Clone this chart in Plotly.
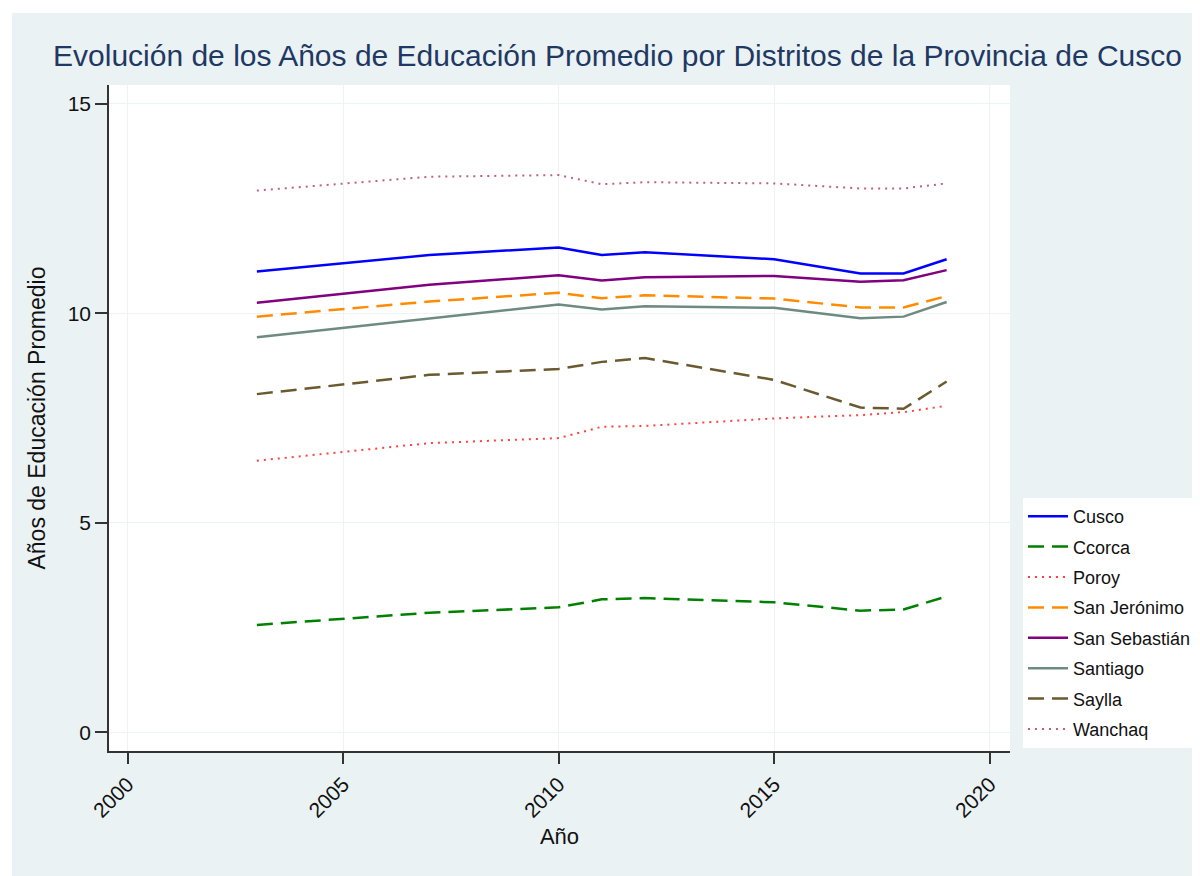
import plotly.graph_objects as go

years = [2003, 2007, 2010, 2011, 2012, 2015, 2017, 2018, 2019]

cusco = [11.00, 11.39, 11.57, 11.39, 11.46, 11.29, 10.95, 10.95, 11.29]
ccorca = [2.56, 2.85, 2.98, 3.17, 3.20, 3.10, 2.90, 2.93, 3.24]
poroy = [6.48, 6.90, 7.02, 7.29, 7.31, 7.49, 7.57, 7.64, 7.79]
san_jeronimo = [9.92, 10.28, 10.49, 10.36, 10.43, 10.35, 10.14, 10.14, 10.41]
san_sebastian = [10.25, 10.68, 10.91, 10.78, 10.86, 10.89, 10.75, 10.79, 11.03]
santiago = [9.43, 9.88, 10.21, 10.09, 10.17, 10.13, 9.88, 9.92, 10.27]
saylla = [8.07, 8.53, 8.67, 8.84, 8.93, 8.41, 7.75, 7.72, 8.37]
wanchaq = [12.93, 13.26, 13.30, 13.08, 13.13, 13.10, 12.98, 12.98, 13.10]

names = ["Cusco", "Ccorca", "Poroy", "San Jerónimo", "San Sebastián",
         "Santiago", "Saylla", "Wanchaq"]
series = [cusco, ccorca, poroy, san_jeronimo, san_sebastian, santiago, saylla, wanchaq]
colors = ["#0000FF", "#008000", "#FF4040", "#FF8C00", "#800080",
          "#6E8B80", "#6B5A30", "#C06080"]
dashes = ["solid", "16px,8px", "2px,5px", "16px,8px", "solid",
          "solid", "16px,8px", "2px,5px"]
widths = [2.5, 2.5, 2, 2.5, 2.5, 2.5, 2.5, 2]

x_ticks = [2000, 2005, 2010, 2015, 2020]
y_ticks = [0, 5, 10, 15]

FONT = "Liberation Sans, Arial, sans-serif"
BG = "#EAF2F3"

fig = go.Figure()
for n, s, c, d, w in zip(names, series, colors, dashes, widths):
    fig.add_trace(go.Scatter(x=years, y=s, name=n, mode="lines", legendgroup=n,
                             line=dict(color=c, dash=d, width=w)))

L, R, T, B = 101, 198, 77, 133
W, H = 1200, 876
pw, ph = W - L - R, H - T - B

# white outer strips (top and left)
fig.add_shape(type="rect", xref="paper", yref="paper", layer="below",
              x0=-L / pw, x1=(4 - L) / pw, y0=-B / ph, y1=(H - B) / ph,
              fillcolor="white", line=dict(width=0))
fig.add_shape(type="rect", xref="paper", yref="paper", layer="below",
              x0=-L / pw, x1=(W - L) / pw, y0=(H - B - 5) / ph, y1=(H - B) / ph,
              fillcolor="white", line=dict(width=0))

fig.update_layout(
    width=W, height=H,
    margin=dict(l=L, r=R, t=T, b=B),
    paper_bgcolor=BG, plot_bgcolor="white",
    font=dict(family=FONT, color="#111111"),
    title=dict(text="Evolución de los Años de Educación Promedio por Distritos de la Provincia de Cusco",
               x=609.5 / W, xref="container", xanchor="center",
               y=1 - 47 / H, yanchor="middle",
               font=dict(size=30, color="#1F3864", family=FONT)),
    showlegend=True,
    legend=dict(x=(1015 - L) / pw, xanchor="left", y=(H - B - 490) / ph, yanchor="top",
                bgcolor="white", font=dict(size=18, color="#111111"),
                tracegroupgap=4, itemwidth=40, traceorder="grouped"),
)

fig.update_xaxes(range=[1999.57, 2020.47], tickvals=x_ticks, tickangle=-45,
                 ticks="outside", ticklen=11, tickwidth=1.5, tickcolor="#333333",
                 showline=True, linecolor="#333333", linewidth=1.5,
                 showgrid=True, gridcolor="#EEF4F5", gridwidth=1, zeroline=False,
                 tickfont=dict(size=21, color="#111111"),
                 title=dict(text="Año", font=dict(size=22, color="#111111"), standoff=8))
fig.update_yaxes(range=[-0.45, 15.45], tickvals=y_ticks,
                 ticks="outside", ticklen=12, tickwidth=1.5, tickcolor="#333333",
                 showline=True, linecolor="#333333", linewidth=1.5,
                 showgrid=True, gridcolor="#EEF4F5", gridwidth=1, zeroline=False,
                 tickfont=dict(size=21, color="#111111"),
                 title=dict(text="Años de Educación Promedio", font=dict(size=23, color="#111111"), standoff=16))

fig.write_html("out.html")
